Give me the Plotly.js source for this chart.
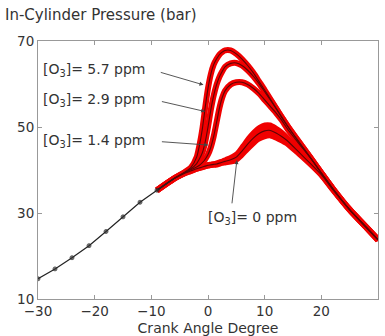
<!DOCTYPE html>
<html>
<head>
<meta charset="utf-8">
<script src="https://cdn.plot.ly/plotly-3.0.1.min.js"></script>
<style>html,body{margin:0;padding:0;background:#fff;}#chart{width:385px;height:336px;}</style>
</head>
<body>
<div id="chart"></div>
<script>
// Motored (common) part of the pressure trace
const motoredX = [-30, -27, -24, -21, -18, -15, -12, -9, -6];
const motoredY = [14.7, 17.0, 19.6, 22.4, 25.7, 29.1, 32.5, 35.3, 38.0];

// Crank angle grid for the fired curves
const crankAngle = [-9, -6, -4, -3, -2, -1.5, -1, -0.5, 0, 0.5,
                    1, 1.5, 2, 2.5, 3, 4, 5, 6, 7, 8,
                    9, 10, 11, 12, 13, 14, 16, 18, 20, 22,
                    25, 28, 30];

const p57 = [35.3, 38.0, 39.6, 40.6, 43.0, 45.8, 49.5, 54.5, 59.0, 62.3,
             64.5, 65.8, 66.8, 67.4, 67.8, 67.8, 67.0, 65.8, 64.3, 62.6,
             60.6, 58.6, 56.5, 54.4, 52.3, 50.3, 46.6, 43.0, 39.3, 35.7,
             30.8, 26.6, 23.8];
const p29 = [35.3, 38.0, 39.5, 40.3, 41.5, 42.6, 44.0, 46.5, 50.0, 54.0,
             57.3, 59.8, 61.6, 62.9, 64.0, 64.8, 64.9, 64.3, 63.2, 61.8,
             60.1, 58.2, 56.3, 54.3, 52.3, 50.3, 46.6, 43.0, 39.3, 35.7,
             30.8, 26.6, 23.8];
const p14 = [35.3, 38.0, 39.4, 40.1, 40.7, 41.1, 41.7, 42.5, 43.6, 45.3,
             47.8, 51.0, 54.3, 56.8, 58.4, 59.9, 60.4, 60.4, 59.9, 59.0,
             57.8, 56.3, 54.8, 53.3, 51.6, 49.6, 46.2, 42.9, 39.3, 35.7,
             30.8, 26.6, 23.8];
const p0  = [35.3, 38.0, 39.3, 39.8, 40.3, 40.5, 40.7, 40.9, 41.1, 41.2,
             41.3, 41.4, 41.6, 41.8, 42.0, 42.4, 43.0, 44.4, 46.0, 47.4,
             48.5, 49.1, 49.2, 48.6, 47.8, 46.8, 44.2, 41.6, 38.9, 35.5,
             30.7, 26.5, 23.7];
// cycle-to-cycle spread (half width) of the 0 ppm band
const spread0 = [0.2, 0.3, 0.3, 0.4, 0.4, 0.4, 0.4, 0.4, 0.4, 0.4,
                 0.4, 0.5, 0.5, 0.5, 0.6, 0.8, 1.0, 1.3, 1.5, 1.6,
                 1.6, 1.6, 1.5, 1.4, 1.3, 1.1, 0.8, 0.6, 0.5, 0.4,
                 0.3, 0.3, 0.2];

const seriesNames = ['5.7 ppm', '2.9 ppm', '1.4 ppm', '0 ppm'];
const seriesY = [p57, p29, p14, p0];

const RED = '#f00000';
const DARK = '#5a0505';
const FONT = 'DejaVu Sans, Arial, sans-serif';
const traces = [];

// red bands (thick)
seriesY.forEach((ys, i) => {
  traces.push({x: crankAngle, y: ys, mode: 'lines', name: seriesNames[i],
    line: {color: RED, width: 6, shape: 'spline', smoothing: 0.6}, hoverinfo: 'skip'});
});
// wider band for 0 ppm
const up0 = p0.map((v, i) => v + spread0[i]);
const lo0 = p0.map((v, i) => v - spread0[i]);
traces.push({x: crankAngle, y: lo0, mode: 'lines', line: {color: RED, width: 3, shape: 'spline', smoothing: 0.6}, hoverinfo: 'skip'});
traces.push({x: crankAngle, y: up0, mode: 'lines', fill: 'tonexty', fillcolor: RED,
  line: {color: RED, width: 3, shape: 'spline', smoothing: 0.6}, hoverinfo: 'skip'});
// dark mean lines
seriesY.forEach((ys, i) => {
  traces.push({x: crankAngle, y: ys, mode: 'lines',
    line: {color: DARK, width: 1.1, shape: 'spline', smoothing: 0.6}, hoverinfo: 'skip'});
});
// motored line with markers
traces.push({x: motoredX, y: motoredY, mode: 'lines+markers',
  line: {color: '#222', width: 1.2},
  marker: {color: '#333', size: motoredX.map((v, i) => i < motoredX.length - 1 ? 4 : 0)}});

const labelFont = {family: FONT, size: 14, color: '#333'};
const labels = [
  {text: '[O<sub>3</sub>]= 5.7 ppm', x: -29.4, y: 63.3, tx: -8.6, ty: 62.8, hx: -0.8, hy: 59.8},
  {text: '[O<sub>3</sub>]= 2.9 ppm', x: -29.4, y: 56.3, tx: -8.4, ty: 56.0, hx: -0.5, hy: 53.6},
  {text: '[O<sub>3</sub>]= 1.4 ppm', x: -29.4, y: 46.7, tx: -8.4, ty: 46.6, hx: 0.05, hy: 45.8},
  {text: '[O<sub>3</sub>]= 0 ppm', x: -0.3, y: 28.8, tx: 4.2, ty: 31.9, hx: 5.1, hy: 42.3}
];
const annotations = [];
labels.forEach(l => {
  annotations.push({x: l.x, y: l.y, xref: 'x', yref: 'y', text: l.text, showarrow: false,
    xanchor: 'left', yanchor: 'middle', font: labelFont});
  annotations.push({x: l.hx, y: l.hy, ax: l.tx, ay: l.ty, xref: 'x', yref: 'y', axref: 'x', ayref: 'y',
    text: '', showarrow: true, arrowhead: 2, arrowsize: 0.9, arrowwidth: 0.9, arrowcolor: '#444'});
});

const axisCommon = {showline: true, linecolor: '#999', linewidth: 1, mirror: 'ticks',
  ticks: 'inside', ticklen: 4, tickcolor: '#999', showgrid: false, zeroline: false,
  tickfont: {family: FONT, size: 13.5, color: '#333'}};

const layout = {
  width: 385, height: 336,
  margin: {l: 38, r: 7, t: 41, b: 37},
  paper_bgcolor: '#fff', plot_bgcolor: '#fff',
  showlegend: false,
  title: {text: 'In-Cylinder Pressure (bar)', x: 5/385, xref: 'container', xanchor: 'left',
    y: 1 - 15/336, yref: 'container', yanchor: 'middle',
    font: {family: FONT, size: 15, color: '#333'}},
  xaxis: Object.assign({}, axisCommon, {range: [-30, 30], tickvals: [-30, -20, -10, 0, 10, 20, 30],
    ticklabelstandoff: 0,
    title: {text: 'Crank Angle Degree', standoff: 5, font: {family: FONT, size: 14, color: '#333'}}}),
  yaxis: Object.assign({}, axisCommon, {range: [10, 70], tickvals: [10, 30, 50, 70]}),
  annotations: annotations
};

Plotly.newPlot('chart', traces, layout, {displayModeBar: false, staticPlot: true});
</script>
</body>
</html>
